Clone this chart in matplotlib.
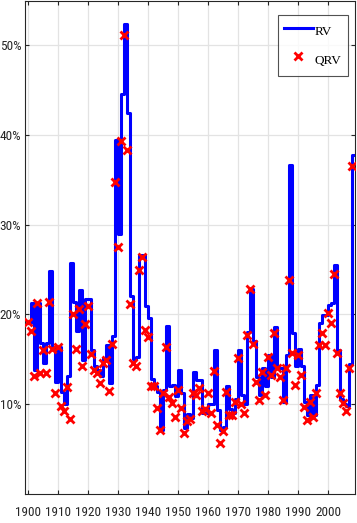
import matplotlib
matplotlib.use("Agg")
import matplotlib.pyplot as plt
import matplotlib.font_manager as fm
import numpy as np

years = list(range(1900, 2009))

rv = [
    0.190, 0.2125, 0.138, 0.2125, 0.168, 0.146, 0.168, 0.248, 0.164, 0.125,   # 1900-1909
    0.164, 0.114, 0.100, 0.131, 0.257, 0.214, 0.181, 0.227, 0.149, 0.217,     # 1910-1919
    0.217, 0.160, 0.142, 0.138, 0.131, 0.151, 0.166, 0.124, 0.176, 0.394,     # 1920-1929
    0.290, 0.445, 0.523, 0.424, 0.220, 0.150, 0.153, 0.266, 0.266, 0.209,     # 1930-1939
    0.196, 0.128, 0.120, 0.114, 0.071, 0.116, 0.187, 0.120, 0.121, 0.109,     # 1940-1949
    0.138, 0.112, 0.074, 0.089, 0.085, 0.136, 0.127, 0.127, 0.090, 0.090,     # 1950-1959
    0.100, 0.100, 0.160, 0.094, 0.071, 0.075, 0.120, 0.095, 0.090, 0.106,     # 1960-1969
    0.160, 0.110, 0.100, 0.180, 0.228, 0.170, 0.130, 0.110, 0.140, 0.120,     # 1970-1979
    0.155, 0.130, 0.186, 0.140, 0.140, 0.103, 0.155, 0.366, 0.179, 0.142,     # 1980-1989
    0.162, 0.142, 0.103, 0.088, 0.110, 0.088, 0.121, 0.190, 0.199, 0.199,     # 1990-1999
    0.211, 0.213, 0.255, 0.160, 0.106, 0.100, 0.098, 0.145, 0.378,            # 2000-2008
]

qrv = [
    0.192, 0.181, 0.131, 0.2125, 0.135, 0.160, 0.135, 0.214, 0.162, 0.112,    # 1900-1909
    0.164, 0.098, 0.092, 0.119, 0.083, 0.201, 0.161, 0.206, 0.142, 0.189,     # 1910-1919
    0.209, 0.156, 0.138, 0.135, 0.124, 0.146, 0.149, 0.115, 0.167, 0.347,     # 1920-1929
    0.275, 0.393, 0.511, 0.383, 0.212, 0.146, 0.142, 0.249, 0.264, 0.183,     # 1930-1939
    0.175, 0.120, 0.120, 0.096, 0.071, 0.112, 0.164, 0.108, 0.101, 0.086,     # 1940-1949
    0.116, 0.096, 0.068, 0.081, 0.083, 0.112, 0.110, 0.118, 0.092, 0.095,     # 1950-1959
    0.112, 0.090, 0.137, 0.077, 0.057, 0.070, 0.114, 0.088, 0.088, 0.102,     # 1960-1969
    0.151, 0.100, 0.090, 0.177, 0.228, 0.167, 0.125, 0.105, 0.136, 0.110,     # 1970-1979
    0.153, 0.133, 0.179, 0.140, 0.130, 0.105, 0.140, 0.238, 0.157, 0.121,     # 1980-1989
    0.155, 0.133, 0.097, 0.082, 0.103, 0.086, 0.112, 0.166, 0.179, 0.166,     # 1990-1999
    0.202, 0.190, 0.245, 0.157, 0.112, 0.101, 0.092, 0.140, 0.365,            # 2000-2008
]

xticks = [1900, 1910, 1920, 1930, 1940, 1950, 1960, 1970, 1980, 1990, 2000]
yticks = [0.1, 0.2, 0.3, 0.4, 0.5]
ytick_labels = ["10%", "20%", "30%", "40%", "50%"]

# pick a narrow sans font if one is installed, else a small regular one
installed = {f.name for f in fm.fontManager.ttflist}
narrow = None
for name in ["Liberation Sans Narrow", "Roboto Condensed", "Open Sans Condensed",
             "Arial Narrow", "Nimbus Sans Narrow"]:
    if name in installed:
        narrow = fm.FontProperties(family=name)
        break
if narrow is None:
    for f in fm.fontManager.ttflist:
        if "DejaVuSansCondensed.ttf" in f.fname:
            narrow = fm.FontProperties(fname=f.fname)
            break
if narrow is not None:
    xprop = narrow.copy(); xprop.set_size(9.5)
    yprop = narrow.copy(); yprop.set_size(9.5)
else:
    xprop = fm.FontProperties(family="Liberation Sans", size=8.2)
    yprop = fm.FontProperties(family="Liberation Sans", size=7.4)

W, H = 357, 523
fig = plt.figure(figsize=(W / 100, H / 100), dpi=100)
ax = fig.add_axes([25 / W, (H - 494) / H, 330 / W, 493 / H])

sx = years + [years[-1] + 1]
sy = rv + [rv[-1]]
ax.step(sx, sy, where="post", color="#0000ff", lw=2.2, label="RV", zorder=3)
ax.plot(years, qrv, "x", color="#ff0000", ms=5.5, mew=2.0, label="QRV", zorder=4)

ax.set_xlim(1899, 2009)
ax.set_ylim(0, 0.549)
ax.set_xticks(xticks)
ax.set_yticks(yticks)
ax.set_yticklabels(ytick_labels)

for lab in ax.get_xticklabels():
    lab.set_fontproperties(xprop)
    lab.set_color("#262626")
for lab in ax.get_yticklabels():
    lab.set_fontproperties(yprop)
    lab.set_color("#262626")

ax.tick_params(direction="in", length=3, width=0.8, colors="#262626",
               top=True, right=True)
ax.tick_params(axis="x", pad=8.5)
ax.tick_params(axis="y", pad=2.6)

ax.grid(True, color="#e3e3e3", lw=0.9)
ax.set_axisbelow(True)
for s in ax.spines.values():
    s.set_color("#262626")
    s.set_linewidth(0.8)

leg = ax.legend(loc="upper right", bbox_to_anchor=(0.978, 0.9716),
                borderaxespad=0,
                prop={"family": ["Liberation Serif", "DejaVu Serif"], "size": 9.5},
                frameon=True, fancybox=False, edgecolor="#262626",
                handlelength=2.2, handleheight=2.0, handletextpad=0.15,
                borderpad=0.45, labelspacing=0.6)
leg.get_frame().set_linewidth(0.8)

fig.savefig("out.png", dpi=100)
